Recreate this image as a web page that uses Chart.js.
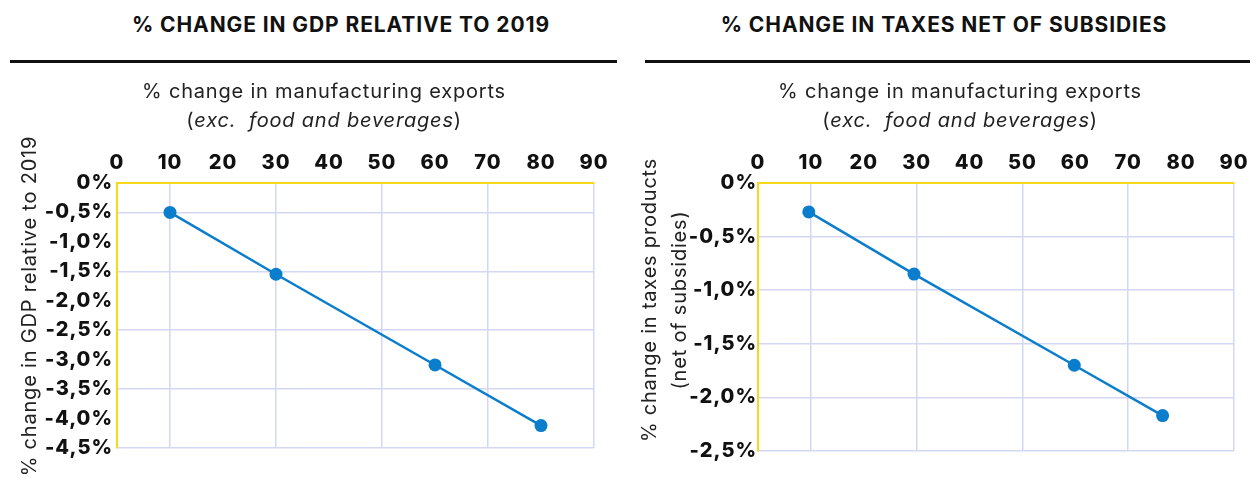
<!DOCTYPE html>
<html>
<head>
<meta charset="utf-8">
<script src="https://cdn.jsdelivr.net/npm/chart.js@4.4.1/dist/chart.umd.min.js"></script>
<style>
  body { margin: 0; background: #fff; width: 1260px; height: 484px; position: relative; overflow: hidden; font-family: 'Inter', sans-serif; }
  .head { position: absolute; top: 12px; font-weight: 700; font-size: 21px; letter-spacing: 0.9px; color: #111; text-align: center; }
  .rule { position: absolute; top: 60px; height: 2.5px; background: #111; }
  canvas { position: absolute; top: 0; }
</style>
</head>
<body>
<div class="head" style="left:41px;width:600px">% CHANGE IN GDP RELATIVE TO 2019</div>
<div class="head" style="left:644px;width:600px">% CHANGE IN TAXES NET OF SUBSIDIES</div>
<div class="rule" style="left:10px;width:607px"></div>
<div class="rule" style="left:645px;width:605px"></div>
<canvas id="gdpChart" width="630" height="484" style="left:0"></canvas>
<canvas id="taxChart" width="630" height="484" style="left:630px"></canvas>
<script>
// values
const gdpExports = [10, 30, 60, 80];
const gdpChange = [-0.5, -1.55, -3.09, -4.12];
const taxExports = [9.6, 29.5, 59.8, 76.5];
const taxChange = [-0.27, -0.85, -1.70, -2.17];

const xTitle = '% change in manufacturing exports';
const xSubtitle = ['(', 'exc.  food and beverages', ')'];
const gdpYTitle = ['% change in GDP relative to 2019'];
const taxYTitle = ['% change in taxes products', '(net of subsidies)'];

const FONT = 'Inter';
const BLUE = '#0a7dcc';
const GRID = '#d3d7f2';
const YELLOW = '#f7d81c';

const pctLabel = (v) => {
  if (Math.abs(v) < 1e-9) return '0%';
  return v.toFixed(1).replace('.', ',') + '%';
};

// wider tick text, the original font is a wide one
const tickSpacing = {
  id: 'tickSpacing',
  beforeDraw(chart) {
    chart.ctx.letterSpacing = '1px';
  }
};

// draws the axis titles (the subtitle has an italic part)
const axisTitles = {
  id: 'axisTitles',
  afterDraw(chart, args, opts) {
    const ctx = chart.ctx;
    ctx.save();
    ctx.letterSpacing = '0.8px';
    ctx.fillStyle = '#222';
    ctx.textBaseline = 'middle';
    ctx.font = '20px ' + FONT;
    ctx.textAlign = 'center';
    ctx.fillText(xTitle, opts.xCenter, 92);

    // second line: "(" normal, text italic, ")" normal
    const normal = '20px ' + FONT;
    const italic = 'italic 20px ' + FONT;
    ctx.font = normal;
    const w0 = ctx.measureText(xSubtitle[0]).width;
    const w2 = ctx.measureText(xSubtitle[2]).width;
    ctx.font = italic;
    const w1 = ctx.measureText(xSubtitle[1]).width;
    let x = opts.xCenter - (w0 + w1 + w2) / 2;
    ctx.textAlign = 'left';
    ctx.font = normal;
    ctx.fillText(xSubtitle[0], x, 121);
    ctx.font = italic;
    ctx.fillText(xSubtitle[1], x + w0, 121);
    ctx.font = normal;
    ctx.fillText(xSubtitle[2], x + w0 + w1, 121);

    ctx.translate(opts.yX, opts.yCenter);
    ctx.rotate(-Math.PI / 2);
    ctx.textAlign = 'center';
    ctx.font = '20px ' + FONT;
    opts.yLines.forEach((line, i) => {
      ctx.fillText(line, 0, i * 30);
    });
    ctx.restore();
    ctx.letterSpacing = '0px';
  }
};

function makeChart(id, xs, ys, yMin, yGridEvery, yWidth, yPad, pad, titleOpts) {
  const points = xs.map((x, i) => ({ x: x, y: ys[i] }));
  return new Chart(document.getElementById(id), {
    type: 'line',
    data: {
      datasets: [{
        data: points,
        borderColor: BLUE,
        backgroundColor: BLUE,
        borderWidth: 2.5,
        pointRadius: 6.5,
        pointHoverRadius: 6.5,
        pointBorderWidth: 0,
        tension: 0
      }]
    },
    options: {
      responsive: false,
      animation: false,
      devicePixelRatio: 1,
      layout: { padding: pad },
      plugins: {
        legend: { display: false },
        tooltip: { enabled: false },
        axisTitles: titleOpts
      },
      scales: {
        x: {
          type: 'linear',
          position: 'top',
          min: 0,
          max: 90,
          afterFit: (s) => { s.height = 183; },
          ticks: {
            stepSize: 10,
            padding: 8,
            color: '#111',
            font: { family: FONT, size: 20, weight: 800 }
          },
          grid: {
            drawTicks: false,
            lineWidth: 1.5,
            color: (c) => (Math.round(c.tick.value) % 20 === 10 ? GRID : 'rgba(0,0,0,0)')
          },
          border: { color: YELLOW, width: 2 }
        },
        y: {
          min: yMin,
          max: 0,
          afterFit: (s) => { s.width = yWidth; },
          ticks: {
            stepSize: 0.5,
            padding: yPad,
            color: '#111',
            font: { family: FONT, size: 20, weight: 800 },
            callback: (v) => pctLabel(v)
          },
          grid: {
            drawTicks: false,
            lineWidth: 1.5,
            color: (c) => {
              const k = Math.round(-c.tick.value * 2);
              return (k > 0 && k % yGridEvery === (yGridEvery === 2 ? 1 : 0)) ? GRID : 'rgba(0,0,0,0)';
            }
          },
          border: { color: YELLOW, width: 2 }
        }
      }
    },
    plugins: [tickSpacing, axisTitles]
  });
}

makeChart('gdpChart', gdpExports, gdpChange, -4.5, 2, 117, 4,
  { left: 0, right: 36, top: 0, bottom: 36 },
  { xCenter: 324, yX: 30, yCenter: 306, yLines: gdpYTitle });

makeChart('taxChart', taxExports, taxChange, -2.5, 1, 128, 1,
  { left: 0, right: 26, top: 0, bottom: 33 },
  { xCenter: 330, yX: 20, yCenter: 300, yLines: taxYTitle });
</script>
</body>
</html>
